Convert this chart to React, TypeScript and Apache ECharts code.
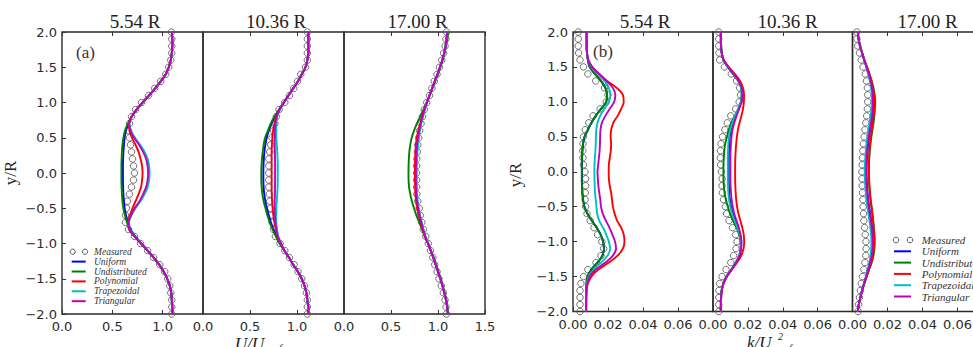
import React, { useEffect, useRef } from "react";
import * as echarts from "echarts";

// y/R positions of every profile sample (top to bottom)
const Y = [2.0,1.9,1.8,1.7,1.6,1.5,1.4,1.3,1.2,1.1,1.0,0.9,0.8,0.7,0.6,0.5,0.4,0.3,0.2,0.1,0.0,-0.1,-0.2,-0.3,-0.4,-0.5,-0.6,-0.7,-0.8,-0.9,-1.0,-1.1,-1.2,-1.3,-1.4,-1.5,-1.6,-1.7,-1.8,-1.9,-2.0];

const TITLES = ["5.54 R", "10.36 R", "17.00 R"];
const LEGEND_NAMES = ["Measured", "Uniform", "Undistributed", "Polynomial", "Trapezoidal", "Triangular"];
const MODEL_NAMES = ["Uniform", "Undistributed", "Polynomial", "Trapezoidal", "Triangular"];
const MODEL_COLORS = ["#0000ff", "#008000", "#ff0000", "#00bfbf", "#bf00bf"];

// ---------- (a) U/U at 5.54 R ----------
const A1_MEAS = [1.086,1.09,1.09,1.09,1.08,1.06,1.03,0.98,0.92,0.86,0.79,0.73,0.69,0.67,0.66,0.67,0.68,0.69,0.70,0.71,0.72,0.71,0.69,0.67,0.65,0.64,0.63,0.63,0.66,0.72,0.78,0.85,0.91,0.97,1.02,1.05,1.07,1.08,1.09,1.09,1.09];
const A1_UNIFORM = [1.09,1.095,1.095,1.09,1.08,1.06,1.03,0.98,0.925,0.865,0.80,0.74,0.69,0.66,0.635,0.622,0.615,0.61,0.607,0.605,0.605,0.605,0.607,0.61,0.615,0.622,0.635,0.655,0.68,0.728,0.787,0.85,0.91,0.965,1.01,1.045,1.07,1.085,1.09,1.095,1.095];
const A1_UNDIST = [1.09,1.095,1.095,1.09,1.08,1.06,1.03,0.98,0.925,0.865,0.80,0.74,0.69,0.655,0.625,0.61,0.60,0.595,0.592,0.59,0.59,0.59,0.592,0.595,0.60,0.61,0.625,0.645,0.675,0.725,0.785,0.85,0.91,0.965,1.01,1.045,1.07,1.085,1.09,1.095,1.095];
const A1_POLY = [1.09,1.095,1.095,1.09,1.08,1.06,1.03,0.98,0.925,0.865,0.80,0.74,0.69,0.665,0.67,0.695,0.73,0.76,0.78,0.795,0.80,0.795,0.785,0.76,0.73,0.70,0.675,0.655,0.665,0.72,0.785,0.85,0.91,0.965,1.01,1.045,1.07,1.085,1.09,1.095,1.095];
const A1_TRAP = [1.09,1.095,1.095,1.09,1.08,1.06,1.03,0.98,0.925,0.865,0.80,0.74,0.695,0.67,0.685,0.725,0.775,0.82,0.85,0.865,0.87,0.865,0.85,0.82,0.78,0.73,0.69,0.665,0.67,0.72,0.785,0.85,0.91,0.965,1.01,1.045,1.07,1.085,1.09,1.095,1.095];
const A1_TRI = [1.09,1.095,1.095,1.09,1.08,1.06,1.03,0.98,0.925,0.865,0.80,0.74,0.693,0.668,0.68,0.715,0.765,0.805,0.835,0.85,0.855,0.85,0.835,0.805,0.77,0.72,0.685,0.662,0.668,0.72,0.785,0.85,0.91,0.965,1.01,1.045,1.07,1.085,1.09,1.095,1.095];

// ---------- (a) U/U at 10.36 R ----------
const A2_MEAS = [1.11,1.11,1.11,1.11,1.11,1.09,1.04,1.005,0.965,0.92,0.87,0.81,0.78,0.765,0.75,0.735,0.72,0.71,0.70,0.70,0.70,0.70,0.70,0.705,0.71,0.72,0.725,0.735,0.75,0.77,0.82,0.87,0.92,0.97,1.01,1.05,1.08,1.10,1.11,1.11,1.11];
const A2_UNIFORM = [1.12,1.12,1.12,1.12,1.11,1.09,1.05,1.01,0.96,0.91,0.86,0.81,0.765,0.73,0.70,0.678,0.663,0.653,0.647,0.643,0.642,0.642,0.645,0.652,0.663,0.68,0.70,0.722,0.75,0.782,0.82,0.865,0.915,0.96,1.01,1.05,1.08,1.10,1.11,1.12,1.12];
const A2_UNDIST = [1.12,1.12,1.12,1.12,1.11,1.09,1.05,1.01,0.96,0.91,0.86,0.81,0.76,0.72,0.69,0.66,0.645,0.635,0.627,0.622,0.62,0.62,0.624,0.632,0.645,0.665,0.685,0.71,0.74,0.775,0.815,0.865,0.915,0.96,1.01,1.05,1.08,1.10,1.11,1.12,1.12];
const A2_POLY = [1.12,1.12,1.12,1.12,1.11,1.09,1.05,1.01,0.96,0.91,0.86,0.815,0.78,0.76,0.745,0.737,0.733,0.73,0.73,0.73,0.73,0.73,0.73,0.732,0.735,0.74,0.748,0.76,0.775,0.795,0.83,0.865,0.915,0.96,1.01,1.05,1.08,1.10,1.11,1.12,1.12];
const A2_TRAP = [1.12,1.12,1.12,1.12,1.11,1.09,1.05,1.01,0.96,0.91,0.86,0.82,0.79,0.78,0.778,0.78,0.785,0.79,0.793,0.795,0.795,0.795,0.793,0.79,0.785,0.78,0.778,0.78,0.788,0.80,0.83,0.865,0.915,0.96,1.01,1.05,1.08,1.10,1.11,1.12,1.12];
const A2_TRI = [1.12,1.12,1.12,1.12,1.11,1.09,1.05,1.01,0.96,0.91,0.86,0.815,0.785,0.77,0.765,0.763,0.763,0.765,0.766,0.767,0.767,0.767,0.766,0.765,0.763,0.763,0.765,0.77,0.78,0.797,0.83,0.865,0.915,0.96,1.01,1.05,1.08,1.10,1.11,1.12,1.12];

// ---------- (a) U/U at 17.00 R ----------
const A3_MEAS = [1.09,1.085,1.075,1.06,1.04,1.015,0.99,0.96,0.935,0.91,0.88,0.855,0.835,0.82,0.805,0.795,0.785,0.78,0.775,0.773,0.772,0.772,0.773,0.775,0.785,0.80,0.812,0.828,0.844,0.87,0.897,0.92,0.945,0.965,0.99,1.01,1.035,1.057,1.075,1.085,1.09];
const A3_UNIFORM = [1.10,1.09,1.08,1.065,1.045,1.02,0.995,0.965,0.938,0.91,0.882,0.857,0.836,0.818,0.802,0.79,0.78,0.774,0.77,0.768,0.767,0.767,0.768,0.772,0.779,0.79,0.805,0.823,0.842,0.865,0.895,0.923,0.95,0.975,1.0,1.025,1.047,1.067,1.085,1.097,1.105];
const A3_UNDIST = [1.11,1.10,1.085,1.07,1.05,1.025,1.0,0.97,0.94,0.91,0.88,0.845,0.81,0.775,0.745,0.72,0.705,0.695,0.69,0.687,0.686,0.687,0.692,0.705,0.722,0.745,0.77,0.80,0.83,0.86,0.895,0.925,0.955,0.98,1.005,1.03,1.05,1.07,1.09,1.10,1.11];
const A3_POLY = [1.10,1.09,1.08,1.065,1.045,1.02,0.995,0.965,0.938,0.91,0.88,0.853,0.83,0.81,0.79,0.775,0.765,0.76,0.757,0.755,0.755,0.755,0.757,0.76,0.767,0.778,0.795,0.815,0.835,0.86,0.893,0.922,0.95,0.975,1.0,1.025,1.047,1.067,1.085,1.097,1.105];
const A3_TRAP = [1.10,1.09,1.08,1.065,1.045,1.02,0.995,0.965,0.938,0.91,0.883,0.86,0.84,0.823,0.808,0.796,0.787,0.781,0.777,0.775,0.774,0.774,0.775,0.778,0.784,0.795,0.81,0.827,0.846,0.868,0.897,0.924,0.95,0.975,1.0,1.025,1.047,1.067,1.085,1.097,1.105];
const A3_TRI = [1.10,1.09,1.08,1.065,1.045,1.02,0.995,0.965,0.938,0.91,0.882,0.857,0.835,0.816,0.80,0.787,0.777,0.771,0.767,0.765,0.764,0.764,0.765,0.769,0.776,0.788,0.803,0.821,0.84,0.864,0.894,0.923,0.95,0.975,1.0,1.025,1.047,1.067,1.085,1.097,1.105];

// ---------- (b) k/U^2 at 5.54 R ----------
const B1_MEAS = [0.003,0.003,0.003,0.0032,0.004,0.006,0.0085,0.013,0.018,0.020,0.019,0.0155,0.0115,0.009,0.007,0.006,0.0057,0.0056,0.0057,0.006,0.0068,0.0072,0.0072,0.007,0.0069,0.0072,0.008,0.0098,0.012,0.014,0.0165,0.0175,0.016,0.0132,0.0085,0.006,0.0045,0.004,0.004,0.004,0.004];
const B1_UNIFORM = [0.0078,0.0078,0.0078,0.008,0.0085,0.0095,0.0125,0.016,0.0185,0.0195,0.019,0.016,0.013,0.0105,0.0085,0.0066,0.0058,0.0054,0.0052,0.0051,0.0051,0.0051,0.0052,0.0054,0.0058,0.0066,0.0083,0.0108,0.0135,0.0158,0.0172,0.0177,0.0168,0.014,0.0105,0.0083,0.0077,0.0075,0.0075,0.0075,0.0075];
const B1_UNDIST = [0.0078,0.0078,0.0078,0.008,0.0085,0.0095,0.0125,0.016,0.0185,0.0195,0.019,0.016,0.013,0.0105,0.0085,0.0065,0.0057,0.0053,0.0051,0.005,0.005,0.005,0.0051,0.0053,0.0057,0.0065,0.0082,0.0108,0.0135,0.0158,0.0172,0.0177,0.0168,0.014,0.0105,0.0083,0.0077,0.0075,0.0075,0.0075,0.0075];
const B1_POLY = [0.0078,0.0078,0.0078,0.008,0.0088,0.011,0.015,0.0195,0.025,0.0285,0.029,0.0275,0.0255,0.023,0.0218,0.0215,0.0218,0.0216,0.021,0.0205,0.0204,0.0205,0.021,0.0218,0.0223,0.0228,0.0238,0.0252,0.0275,0.029,0.0294,0.0285,0.0255,0.0205,0.0145,0.0105,0.0085,0.0078,0.0076,0.0075,0.0075];
const B1_TRAP = [0.0078,0.0078,0.0078,0.008,0.0086,0.0105,0.0142,0.018,0.0205,0.0213,0.0205,0.018,0.0155,0.014,0.0133,0.0131,0.013,0.0128,0.0125,0.0123,0.0122,0.0123,0.0124,0.0126,0.013,0.0134,0.0138,0.015,0.0172,0.019,0.0205,0.0212,0.0198,0.016,0.0118,0.009,0.008,0.0077,0.0075,0.0075,0.0075];
const B1_TRI = [0.0078,0.0078,0.0078,0.008,0.0087,0.0108,0.0148,0.019,0.0228,0.0242,0.0235,0.021,0.0185,0.0165,0.0157,0.0155,0.0154,0.0152,0.0148,0.0144,0.014,0.0142,0.0145,0.015,0.0156,0.016,0.017,0.0188,0.0208,0.0225,0.024,0.0246,0.0228,0.0185,0.013,0.0095,0.0082,0.0077,0.0076,0.0075,0.0075];

// ---------- (b) k/U^2 at 10.36 R ----------
const B2_MEAS = [0.0033,0.0033,0.0033,0.0034,0.0038,0.0065,0.0105,0.0135,0.0152,0.0158,0.015,0.013,0.0102,0.0082,0.0068,0.0055,0.0046,0.0043,0.0042,0.0044,0.0048,0.0052,0.0052,0.0054,0.006,0.0071,0.0078,0.0092,0.0112,0.013,0.0138,0.0132,0.0118,0.0102,0.0075,0.0052,0.0038,0.0034,0.0033,0.0033,0.0033];
const B2_UNIFORM = [0.0045,0.0045,0.0046,0.005,0.006,0.0085,0.0115,0.0145,0.0162,0.0165,0.016,0.0147,0.013,0.0115,0.0103,0.0096,0.0093,0.0091,0.009,0.009,0.009,0.009,0.0091,0.0093,0.0097,0.0104,0.0115,0.0128,0.0143,0.0156,0.0162,0.016,0.0152,0.0132,0.0106,0.0079,0.006,0.005,0.0046,0.0045,0.0045];
const B2_UNDIST = [0.0045,0.0045,0.0046,0.005,0.006,0.0085,0.0115,0.0145,0.0162,0.0165,0.016,0.0145,0.0125,0.0105,0.009,0.008,0.007,0.0065,0.0062,0.006,0.006,0.006,0.0062,0.0066,0.0074,0.0085,0.0098,0.0115,0.0135,0.015,0.0158,0.0158,0.015,0.013,0.0105,0.0078,0.006,0.005,0.0046,0.0045,0.0045];
const B2_POLY = [0.0045,0.0045,0.0046,0.005,0.0062,0.009,0.0125,0.0155,0.0172,0.0178,0.0177,0.0172,0.0163,0.0152,0.0143,0.0137,0.0133,0.013,0.0128,0.0127,0.0127,0.0127,0.0128,0.013,0.0133,0.0138,0.0146,0.0157,0.0168,0.0176,0.0179,0.0175,0.0162,0.0138,0.0108,0.0078,0.006,0.005,0.0046,0.0045,0.0045];
const B2_TRAP = [0.0045,0.0045,0.0046,0.005,0.006,0.0085,0.0115,0.0145,0.0162,0.0165,0.016,0.0145,0.0127,0.0111,0.0099,0.0092,0.0088,0.0086,0.0085,0.0085,0.0085,0.0085,0.0086,0.0088,0.0092,0.0099,0.011,0.0124,0.014,0.0153,0.016,0.0158,0.015,0.013,0.0105,0.0078,0.006,0.005,0.0046,0.0045,0.0045];
const B2_TRI = [0.0045,0.0045,0.0046,0.005,0.0061,0.0087,0.0118,0.0148,0.0165,0.0168,0.0164,0.015,0.0135,0.0122,0.0112,0.0106,0.0103,0.0101,0.01,0.01,0.01,0.01,0.0101,0.0103,0.0107,0.0113,0.0122,0.0135,0.0148,0.0158,0.0163,0.0161,0.0153,0.0133,0.0107,0.0079,0.006,0.005,0.0046,0.0045,0.0045];

// ---------- (b) k/U^2 at 17.00 R ----------
const B3_MEAS = [0.0025,0.0025,0.003,0.004,0.005,0.006,0.0073,0.008,0.0085,0.0087,0.0087,0.0085,0.0081,0.0076,0.0071,0.0066,0.0062,0.0059,0.0057,0.0055,0.0054,0.0054,0.0055,0.0057,0.0059,0.0061,0.0063,0.0065,0.0069,0.0073,0.0077,0.0078,0.0076,0.0071,0.0065,0.0057,0.005,0.0045,0.004,0.0035,0.0032];
const B3_UNIFORM = [0.003,0.0035,0.0043,0.0055,0.0067,0.0081,0.0094,0.0105,0.0113,0.0118,0.012,0.0118,0.0114,0.0108,0.0101,0.0095,0.009,0.0086,0.0083,0.0081,0.008,0.0081,0.0083,0.0086,0.009,0.0095,0.0101,0.0107,0.0112,0.0116,0.0118,0.0117,0.0112,0.0103,0.0091,0.0079,0.0066,0.0055,0.0045,0.0036,0.003];
const B3_UNDIST = [0.003,0.0035,0.0043,0.0055,0.0068,0.0083,0.0097,0.011,0.012,0.0127,0.013,0.0128,0.0125,0.012,0.0114,0.0108,0.0103,0.0099,0.0096,0.0094,0.0093,0.0094,0.0096,0.0099,0.0103,0.0108,0.0113,0.0118,0.0122,0.0126,0.0127,0.0125,0.012,0.011,0.0095,0.0082,0.0068,0.0055,0.0045,0.0036,0.003];
const B3_POLY = [0.003,0.0035,0.0043,0.0055,0.0068,0.0082,0.0096,0.0108,0.0117,0.0123,0.0125,0.0124,0.0121,0.0116,0.011,0.0105,0.01,0.0097,0.0095,0.0094,0.0094,0.0095,0.0097,0.01,0.0104,0.0109,0.0114,0.0118,0.0121,0.0123,0.0124,0.0122,0.0117,0.0107,0.0093,0.008,0.0067,0.0055,0.0045,0.0036,0.003];
const B3_TRAP = [0.003,0.0035,0.0043,0.0054,0.0066,0.0079,0.009,0.0099,0.0106,0.011,0.011,0.0108,0.0104,0.0098,0.0091,0.0085,0.008,0.0076,0.0073,0.0071,0.007,0.0071,0.0073,0.0076,0.008,0.0085,0.0091,0.0097,0.0102,0.0106,0.0108,0.0107,0.0103,0.0096,0.0086,0.0076,0.0065,0.0054,0.0045,0.0036,0.003];
const B3_TRI = [0.003,0.0035,0.0043,0.0055,0.0067,0.008,0.0093,0.0104,0.0111,0.0116,0.0117,0.0116,0.0112,0.0106,0.0099,0.0093,0.0088,0.0084,0.0081,0.0079,0.0079,0.0079,0.0081,0.0084,0.0088,0.0093,0.0099,0.0105,0.011,0.0114,0.0116,0.0115,0.011,0.0101,0.009,0.0078,0.0066,0.0055,0.0045,0.0036,0.003];

const SUBPLOTS = [
  { meas: A1_MEAS, models: [A1_UNIFORM, A1_UNDIST, A1_POLY, A1_TRAP, A1_TRI] },
  { meas: A2_MEAS, models: [A2_UNIFORM, A2_UNDIST, A2_POLY, A2_TRAP, A2_TRI] },
  { meas: A3_MEAS, models: [A3_UNIFORM, A3_UNDIST, A3_POLY, A3_TRAP, A3_TRI] },
  { meas: B1_MEAS, models: [B1_UNIFORM, B1_UNDIST, B1_POLY, B1_TRAP, B1_TRI] },
  { meas: B2_MEAS, models: [B2_UNIFORM, B2_UNDIST, B2_POLY, B2_TRAP, B2_TRI] },
  { meas: B3_MEAS, models: [B3_UNIFORM, B3_UNDIST, B3_POLY, B3_TRAP, B3_TRI] },
];

// layout of the six axes boxes
const LAYOUT = [
  { left: 62, top: 32, width: 141, height: 282, xmax: 1.4, xint: 0.5, dec: 1, yLabels: true, hideMax: true },
  { left: 203, top: 32, width: 141, height: 282, xmax: 1.5, xint: 0.5, dec: 1, yLabels: false, hideMax: true },
  { left: 344, top: 32, width: 141, height: 282, xmax: 1.5, xint: 0.5, dec: 1, yLabels: false, hideMax: false },
  { left: 573, top: 32, width: 140, height: 279.5, xmax: 0.08, xint: 0.02, dec: 2, yLabels: true, hideMax: true },
  { left: 713, top: 32, width: 139.5, height: 279.5, xmax: 0.08, xint: 0.02, dec: 2, yLabels: false, hideMax: true },
  { left: 852.5, top: 32, width: 140, height: 279.5, xmax: 0.08, xint: 0.02, dec: 2, yLabels: false, hideMax: true },
];

const fmt = (v: number, d: number) => v.toFixed(d).replace("-", "\u2212");

function buildOption() {
  const grid: any[] = [];
  const xAxis: any[] = [];
  const yAxis: any[] = [];
  const series: any[] = [];
  const tickStyle = { show: true, inside: true, length: 4, lineStyle: { color: "#333", width: 1 } };
  LAYOUT.forEach((L, gi) => {
    grid.push({ left: L.left, top: L.top, width: L.width, height: L.height, show: true, borderColor: "#2a2a2a", borderWidth: 1.4, backgroundColor: "transparent" });
    xAxis.push({
      type: "value", gridIndex: gi, position: "bottom", min: 0, max: L.xmax, interval: L.xint,
      axisLine: { show: false, onZero: false }, splitLine: { show: false }, axisTick: tickStyle,
      axisLabel: { show: true, showMaxLabel: !L.hideMax, fontFamily: "DejaVu Sans", fontSize: 13, color: "#2b2b2b", margin: 6, formatter: (v: number) => fmt(v, L.dec) },
    });
    xAxis.push({
      type: "value", gridIndex: gi, position: "top", min: 0, max: L.xmax, interval: L.xint,
      axisLine: { show: false, onZero: false }, splitLine: { show: false }, axisTick: tickStyle, axisLabel: { show: false },
    });
    yAxis.push({
      type: "value", gridIndex: gi, position: "left", min: -2, max: 2, interval: 0.5,
      axisLine: { show: false, onZero: false }, splitLine: { show: false },
      axisTick: L.yLabels ? tickStyle : { show: false },
      axisLabel: { show: L.yLabels, fontFamily: "DejaVu Sans", fontSize: 13, color: "#2b2b2b", margin: 5, formatter: (v: number) => fmt(v, 1) },
    });
    const S = SUBPLOTS[gi];
    series.push({
      name: "Measured", type: "scatter", xAxisIndex: gi * 2, yAxisIndex: gi,
      data: S.meas.map((x, i) => [x, Y[i]]), symbol: "circle", symbolSize: 6.5,
      itemStyle: { color: "rgba(255,255,255,0)", borderColor: "#5a5a5a", borderWidth: 1, opacity: 0.85 },
      silent: true, z: 2,
    });
    S.models.forEach((arr, mi) => {
      series.push({
        name: MODEL_NAMES[mi], type: "line", xAxisIndex: gi * 2, yAxisIndex: gi,
        data: arr.map((x, i) => [x, Y[i]]), showSymbol: false, smooth: 0.35,
        lineStyle: { color: MODEL_COLORS[mi], width: 1.9 }, silent: true, z: 3,
      });
    });
  });

  const graphic: any[] = [];
  const titleX = [135, 276, 417.5, 645, 787.5, 927.5];
  titleX.forEach((x, i) => {
    graphic.push({ type: "text", x, y: 21, style: { text: TITLES[i % 3], font: "19px 'Liberation Serif'", fill: "#222", align: "center", verticalAlign: "middle" } });
  });
  graphic.push({ type: "text", x: 76, y: 52, style: { text: "(a)", font: "17px 'Liberation Serif'", fill: "#333", align: "left", verticalAlign: "middle" } });
  graphic.push({ type: "text", x: 593, y: 51.5, style: { text: "(b)", font: "17px 'Liberation Serif'", fill: "#333", align: "left", verticalAlign: "middle" } });
  graphic.push({ type: "text", x: 10, y: 173, rotation: Math.PI / 2, style: { text: "y/R", font: "17px 'Liberation Serif'", fill: "#222", align: "center", verticalAlign: "middle" } });
  graphic.push({ type: "text", x: 515, y: 175, rotation: Math.PI / 2, style: { text: "y/R", font: "17px 'Liberation Serif'", fill: "#222", align: "center", verticalAlign: "middle" } });
  graphic.push({ type: "text", x: 235, y: 335, style: { text: "U/U", font: "italic 17px 'Liberation Serif'", fill: "#222", align: "left", verticalAlign: "top" } });
  graphic.push({ type: "text", x: 270, y: 342, style: { text: "ref", font: "italic 11px 'Liberation Serif'", fill: "#222", align: "left", verticalAlign: "top" } });
  graphic.push({ type: "text", x: 747, y: 334, style: { text: "k/U", font: "italic 17px 'Liberation Serif'", fill: "#222", align: "left", verticalAlign: "top" } });
  graphic.push({ type: "text", x: 778, y: 331, style: { text: "2", font: "italic 10px 'Liberation Serif'", fill: "#222", align: "left", verticalAlign: "top" } });
  graphic.push({ type: "text", x: 780, y: 342, style: { text: "ref", font: "italic 11px 'Liberation Serif'", fill: "#222", align: "left", verticalAlign: "top" } });

  // legends
  const legends = [
    { y0: 251.7, dy: 9.9, c1: 72.7, c2: 85, l1: 71.7, l2: 85.7, tx: 94, font: "italic 9.5px 'Liberation Serif'", r: 2.6 },
    { y0: 240, dy: 11.3, c1: 896, c2: 910, l1: 894, l2: 911, tx: 921.7, font: "italic 11px 'Liberation Serif'", r: 2.8 },
  ];
  legends.forEach((g) => {
    LEGEND_NAMES.forEach((name, i) => {
      const yy = g.y0 + i * g.dy;
      if (i === 0) {
        graphic.push({ type: "circle", shape: { cx: g.c1, cy: yy, r: g.r }, style: { fill: "none", stroke: "#555", lineWidth: 1 } });
        graphic.push({ type: "circle", shape: { cx: g.c2, cy: yy, r: g.r }, style: { fill: "none", stroke: "#555", lineWidth: 1 } });
      } else {
        graphic.push({ type: "line", shape: { x1: g.l1, y1: yy, x2: g.l2, y2: yy }, style: { stroke: MODEL_COLORS[i - 1], lineWidth: 2 } });
      }
      graphic.push({ type: "text", x: g.tx, y: yy, style: { text: name, font: g.font, fill: "#333", align: "left", verticalAlign: "middle" } });
    });
  });

  return { animation: false, backgroundColor: "#fff", grid, xAxis, yAxis, series, graphic };
}

export default function App() {
  const ref = useRef<HTMLDivElement>(null);
  useEffect(() => {
    if (!ref.current) return;
    const chart = echarts.init(ref.current, null, { renderer: "svg" });
    chart.setOption(buildOption() as any);
    return () => chart.dispose();
  }, []);
  return (
    <div style={{ position: "absolute", left: 0, top: 0, width: 973, height: 347, overflow: "hidden", background: "#fff" }}>
      <div ref={ref} style={{ width: 1000, height: 347 }} />
    </div>
  );
}
